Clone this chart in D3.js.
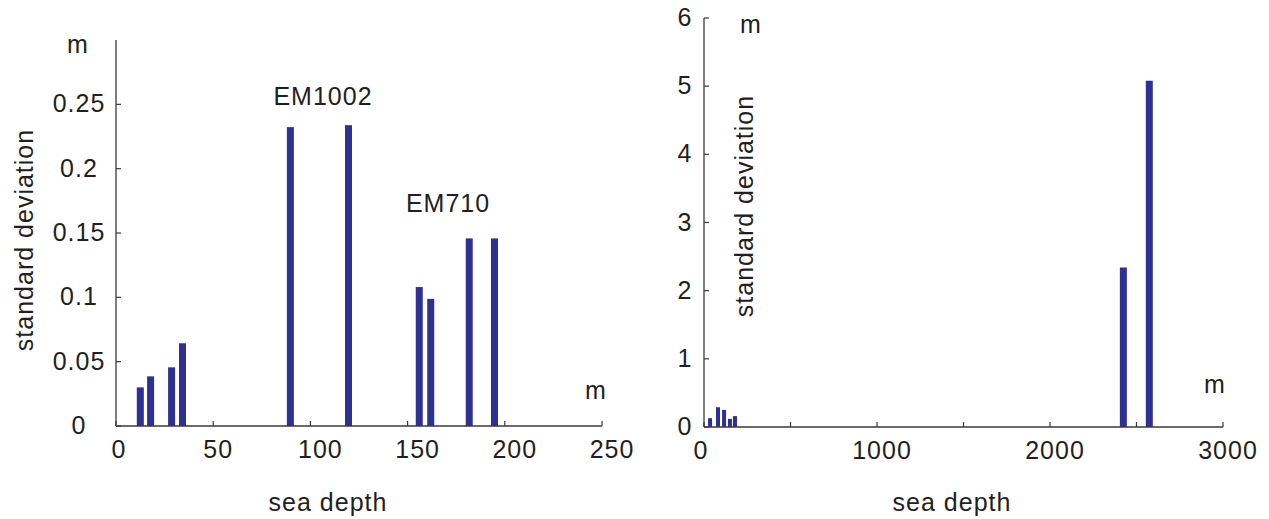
<!DOCTYPE html>
<html>
<head>
<meta charset="utf-8">
<script src="https://cdn.jsdelivr.net/npm/d3@7"></script>
<style>
  body { margin: 0; background: #fff; }
  text { font-family: "Liberation Sans", Arial, sans-serif; fill: #231f20; letter-spacing: 1px; }
</style>
</head>
<body>
<svg id="chart" width="1269" height="519"></svg>
<script>
// left panel: EM1002 / EM710, depth (m) vs standard deviation (m)
var left_depth = [12.5, 17.8, 28.6, 34.2, 89.7, 119.6, 156, 161.9, 181.7, 194.7];
var left_std   = [0.030, 0.0386, 0.0456, 0.0643, 0.2323, 0.2338, 0.108, 0.0988, 0.1458, 0.1458];
var left_xticks = [0, 50, 100, 150, 200, 250];
var left_yticks = [0, 0.05, 0.1, 0.15, 0.2, 0.25];

// right panel: shallow and deep measurements
var right_shallow_depth = [35, 81, 116, 150, 179];
var right_shallow_std   = [0.13, 0.29, 0.25, 0.12, 0.16];
var right_deep_depth = [2424, 2574];
var right_deep_std   = [2.34, 5.08];
var right_xticks = [0, 500, 1000, 1500, 2000, 2500, 3000];
var right_xlabels = [0, 1000, 2000, 3000];
var right_yticks = [0, 1, 2, 3, 4, 5, 6];

var svg = d3.select('#chart');
var barColor = '#2e3192';
var axisColor = '#3a3a3a';
var fs = 25;

function label(g, x, y, txt, anchor) {
  return g.append('text').attr('x', x).attr('y', y)
    .attr('text-anchor', anchor || 'middle').attr('font-size', fs).text(txt);
}

// ylabx: centre of the y tick labels (they are centred in a column, not right aligned)
function axes(g, x, y, xticks, xlabels, yticks, yfmt, xshift, ylabx) {
  var x0 = x.range()[0], x1 = x.range()[1];
  var y0 = y.range()[0], y1 = y.range()[1];
  g.append('line').attr('x1', x0).attr('x2', x0).attr('y1', y0).attr('y2', y1)
    .attr('stroke', axisColor).attr('stroke-width', 1.3);
  g.append('line').attr('x1', x0).attr('x2', x1).attr('y1', y0).attr('y2', y0)
    .attr('stroke', axisColor).attr('stroke-width', 1.3);

  g.selectAll().data(xticks).enter().append('line')
    .attr('x1', function(d) { return x(d) }).attr('x2', function(d) { return x(d) })
    .attr('y1', y0).attr('y2', y0 - 5)
    .attr('stroke', axisColor).attr('stroke-width', 1.2);
  g.selectAll().data(xlabels).enter().append('text')
    .attr('x', function(d) { return x(d) + xshift(String(d).length) }).attr('y', y0 + 32)
    .attr('text-anchor', 'middle').attr('font-size', fs)
    .text(function(d) { return d });

  g.selectAll().data(yticks).enter().append('line')
    .attr('x1', x0).attr('x2', x0 + 5)
    .attr('y1', function(d) { return y(d) }).attr('y2', function(d) { return y(d) })
    .attr('stroke', axisColor).attr('stroke-width', 1.2);
  g.selectAll().data(yticks).enter().append('text')
    .attr('x', ylabx).attr('y', function(d) { return y(d) + 8 })
    .attr('text-anchor', 'middle').attr('font-size', fs)
    .text(yfmt);
}

function bars(g, x, y, depth, std, w) {
  g.selectAll().data(depth).enter().append('rect')
    .attr('x', function(d) { return x(d) - w / 2 })
    .attr('width', w)
    .attr('y', function(d, i) { return y(std[i]) })
    .attr('height', function(d, i) { return y(0) - y(std[i]) })
    .attr('fill', barColor);
}

// left panel
var gl = svg.append('g');
var xl = d3.scaleLinear().domain([0, 250]).range([116, 602]);
var yl = d3.scaleLinear().domain([0, 0.3]).range([426, 40]);
bars(gl, xl, yl, left_depth, left_std, 7);
axes(gl, xl, yl, left_xticks, left_xticks, left_yticks,
     function(d) { return d3.format('~g')(d) },
     function(n) { return n == 1 ? 3 : (n == 2 ? 5 : 10) }, 79);
label(gl, 78, 53, 'm');
label(gl, 596, 399, 'm');
label(gl, 323, 105, 'EM1002');
label(gl, 448, 212, 'EM710');
gl.append('text').attr('transform', 'translate(33,240) rotate(-90)')
  .attr('text-anchor', 'middle').attr('font-size', fs).text('standard deviation');
label(gl, 328, 511, 'sea depth');

// right panel
var gr = svg.append('g');
var xr = d3.scaleLinear().domain([0, 3000]).range([704, 1223]);
var yr = d3.scaleLinear().domain([0, 6]).range([427, 18]);
bars(gr, xr, yr, right_shallow_depth, right_shallow_std, 4);
bars(gr, xr, yr, right_deep_depth, right_deep_std, 7);
axes(gr, xr, yr, right_xticks, right_xlabels, right_yticks,
     function(d) { return d },
     function(n) { return n == 1 ? -3 : 5 }, 685);
label(gr, 751, 33, 'm');
label(gr, 1215, 393, 'm');
gr.append('text').attr('transform', 'translate(753,206) rotate(-90)')
  .attr('text-anchor', 'middle').attr('font-size', fs).text('standard deviation');
label(gr, 952, 511, 'sea depth');
</script>
</body>
</html>
